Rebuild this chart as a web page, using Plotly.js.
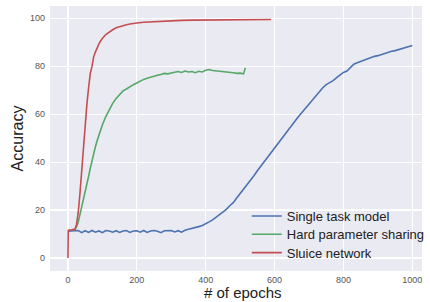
<!DOCTYPE html>
<html><head><meta charset="utf-8">
<script src="https://cdn.plot.ly/plotly-3.0.1.min.js"></script>
<style>html,body{margin:0;padding:0;background:#fff}#c{width:430px;height:302px}</style>
</head><body><div id="c"></div>
<script>
const seriesNames = ["Single task model", "Hard parameter sharing", "Sluice network"];
const xTickVals = [0, 200, 400, 600, 800, 1000];
const yTickVals = [0, 20, 40, 60, 80, 100];
const xTitle = "# of epochs";
const yTitle = "Accuracy";

const singleEpochs = [0,10,20,30,40,50,60,70,80,90,100,110,120,130,140,150,160,170,180,190,200,210,220,230,240,250,260,270,280,290,300,310,320,330,340,350,360,370,380,390,400,410,420,430,440,450,460,470,480,490,500,510,520,530,540,550,560,570,580,590,600,610,620,630,640,650,660,670,680,690,700,710,720,730,740,750,760,770,780,790,800,810,820,830,840,850,860,870,880,890,900,910,920,930,940,950,960,970,980,990,1000];
const singleAcc = [11.2,11.4,11.3,11.5,10.6,11.4,10.7,11.5,10.8,11.3,10.6,11.5,11.3,10.8,11.4,10.7,11.3,11.5,10.7,11.3,11.4,10.8,11.5,10.7,11.3,11.5,11.2,10.6,11.4,11.3,11.5,10.9,11.4,10.8,11.6,12.0,12.3,12.6,13.1,13.6,14.2,15.1,15.9,17.0,17.8,19.0,20.3,21.8,23.1,25.0,26.8,28.9,30.8,32.6,34.3,36.4,38.3,40.2,42.0,44.1,46.0,47.9,50.0,51.8,53.6,55.4,57.2,59.1,60.8,62.5,64.3,66.0,67.6,69.4,71.0,72.3,73.1,74.0,75.2,76.3,77.4,78.0,79.6,80.8,81.4,82.0,82.6,83.2,83.5,84.1,84.4,84.9,85.3,85.7,86.2,86.5,86.9,87.4,87.8,88.2,88.6];

const hardEpochs = [20,25,30,35,40,45,50,55,60,65,70,75,80,85,90,95,100,110,120,130,140,150,160,170,180,190,200,210,220,230,240,250,260,270,280,290,300,310,320,330,340,350,360,370,380,390,400,410,420,430,440,450,460,470,480,490,500,510,515];
const hardAcc = [11.8,13,15,18,21,24.5,27.5,31,34,37.5,41,44,46.5,49,51.5,53.5,55.5,59,62,64.5,66.5,68.2,69.7,70.5,71.5,72.3,73.0,73.8,74.5,75.0,75.5,75.8,76.2,76.5,77.0,76.8,77.3,77.5,77.8,77.4,78.0,77.6,77.8,77.3,77.9,77.6,78.3,78.6,78.2,78.1,78.0,77.8,77.6,77.5,77.3,77.0,77.1,76.8,79.3];

const sluiceEpochs = [0,1,5,10,15,20,25,30,35,40,45,50,55,60,65,70,75,80,85,90,95,100,110,120,130,140,150,160,170,180,190,200,220,240,260,280,300,330,360,400,440,480,520,560,590];
const sluiceAcc = [0,11.5,11.8,11.6,12.0,11.8,14,19,27,37,47,56,64,71,77,80,84,86,88,89.3,90.5,91.6,93.2,94.3,95.2,96.0,96.5,96.9,97.3,97.6,97.9,98.0,98.3,98.5,98.7,98.9,99.0,99.1,99.2,99.3,99.4,99.4,99.5,99.5,99.5];

const colors = ["#4C72B0", "#55A868", "#C44E52"];
const font = "Liberation Sans, Arial, sans-serif";
const legendIds = ["legend", "legend2", "legend3"];
const legendY = [0.2075, 0.1383, 0.0692];

const traces = [
  {x: singleEpochs, y: singleAcc, name: seriesNames[0]},
  {x: hardEpochs, y: hardAcc, name: seriesNames[1]},
  {x: sluiceEpochs, y: sluiceAcc, name: seriesNames[2]}
].map((t, i) => Object.assign(t, {type: "scatter", mode: "lines", legend: legendIds[i],
  line: {color: colors[i], width: 1.6}}));

const layout = {
  width: 430, height: 302,
  margin: {l: 50, r: 0, t: 6, b: 31},
  paper_bgcolor: "#ffffff",
  plot_bgcolor: "#EAEAF2",
  font: {family: font, color: "#555555", size: 9},
  showlegend: true,
  xaxis: {range: [-52, 1028], tickvals: xTickVals, ticktext: xTickVals.map(String),
          showgrid: true, gridcolor: "#ffffff", gridwidth: 1.2, zeroline: false, showline: false,
          ticks: "", ticklabelstandoff: 2},
  yaxis: {range: [-5.4, 105.1], tickvals: yTickVals, ticktext: yTickVals.map(String),
          showgrid: true, gridcolor: "#ffffff", gridwidth: 1.2, zeroline: false, showline: false,
          ticks: "", ticklabelstandoff: 4,
          title: {text: yTitle, font: {size: 16, color: "#222222", family: font}, standoff: 2}},
  annotations: [{text: xTitle, xref: "paper", yref: "paper", x: 0.518, y: -0.0811,
                 xanchor: "center", yanchor: "middle", showarrow: false,
                 font: {size: 15, color: "#222222", family: font}}]
};
legendIds.forEach((id, i) => {
  layout[id] = {x: 0.529, y: legendY[i], xanchor: "left", yanchor: "middle",
                bgcolor: "rgba(0,0,0,0)", font: {size: 13, color: "#222222", family: font}};
});

Plotly.newPlot("c", traces, layout, {displayModeBar: false, staticPlot: true});
</script>
</body></html>
